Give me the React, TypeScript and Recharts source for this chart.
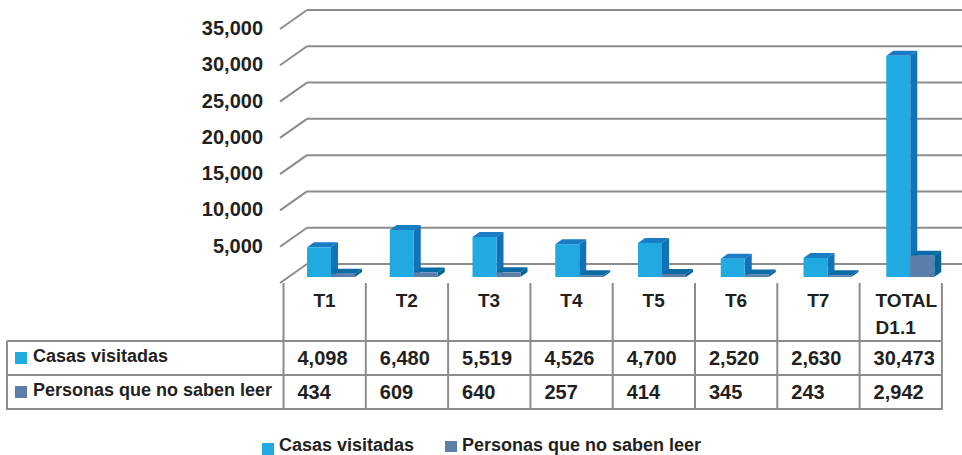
import React from "react";
import { BarChart, Bar, XAxis, YAxis, CartesianGrid } from "recharts";

const categories = ["T1", "T2", "T3", "T4", "T5", "T6", "T7", "TOTAL\nD1.1"];
const casasVisitadas = [4098, 6480, 5519, 4526, 4700, 2520, 2630, 30473];
const personasNoLeen = [434, 609, 640, 257, 414, 345, 243, 2942];
const seriesNames = ["Casas visitadas", "Personas que no saben leer"];
const yTicks = [0, 5000, 10000, 15000, 20000, 25000, 30000, 35000];

const data = categories.map((name, i) => ({
  name,
  casas: casasVisitadas[i],
  personas: personasNoLeen[i],
}));

const FONT = "'Liberation Sans', Arial, sans-serif";
const GRID = "#8c8c8c";
const TEXT = "#231f20";
const CASAS = { front: "#21a9e1", side: "#1172ba", top: "#1a7cc4" };
const PERSONAS = { front: "#5b7eab", side: "#04649a", top: "#0b6ba5" };
const seriesColors = [CASAS, PERSONAS];

const fmt = (v: number) => v.toLocaleString("en-US");

// 3D box for each bar: front face + right side + top
const makeBox = (c: { front: string; side: string; top: string }) => (props: any) => {
  const { x, y, width, height } = props;
  if (height == null || isNaN(height)) return <g />;
  const d = 7;
  const dy = 5;
  return (
    <g>
      <polygon
        points={`${x},${y} ${x + d},${y - dy} ${x + width + d},${y - dy} ${x + width},${y}`}
        fill={c.top}
      />
      <polygon
        points={`${x + width},${y} ${x + width + d},${y - dy} ${x + width + d},${y + height - dy} ${x + width},${y + height}`}
        fill={c.side}
      />
      <rect x={x} y={y} width={width} height={height} fill={c.front} />
    </g>
  );
};

// grid: short diagonal on the left wall, then the line along the back wall
const gridLine = (p: any) => {
  const y = p.y1;
  return (
    <g key={p.key}>
      <line x1={280} y1={y + 6} x2={307} y2={y - 13} stroke={GRID} strokeWidth={2} />
      <line x1={307} y1={y - 13} x2={962} y2={y - 13} stroke={GRID} strokeWidth={2} />
    </g>
  );
};

const YTick = (p: any) => {
  const v = p.payload.value;
  if (v === 0) return <g />;
  return (
    <text
      x={263}
      y={p.y + 5}
      textAnchor="end"
      dominantBaseline="central"
      fontFamily={FONT}
      fontWeight="bold"
      fontSize={20}
      fill={TEXT}
    >
      {fmt(v)}
    </text>
  );
};

const colX = (i: number) => 283.5 + i * 82.3;

const DataTable = () => {
  const rows = [casasVisitadas, personasNoLeen];
  const rowY = [358, 392];
  const txt = { fontFamily: FONT, fontWeight: "bold" as const, fill: TEXT };
  return (
    <svg
      width={962}
      height={455}
      style={{ position: "absolute", left: 0, top: 0, pointerEvents: "none" }}
    >
      {categories.concat([""]).map((_, i) => (
        <line key={`v${i}`} x1={colX(i)} y1={283} x2={colX(i)} y2={410} stroke={GRID} strokeWidth={2} />
      ))}
      <line x1={7} y1={341} x2={7} y2={410} stroke={GRID} strokeWidth={2} />
      {[341, 375, 409].map((y) => (
        <line key={`h${y}`} x1={7} y1={y} x2={colX(8)} y2={y} stroke={GRID} strokeWidth={2} />
      ))}
      {categories.map((c, i) => {
        const parts = c.split("\n");
        if (parts.length === 1) {
          return (
            <text key={`c${i}`} x={colX(i) + 41} y={300} textAnchor="middle" dominantBaseline="central" fontSize={19} {...txt}>
              {c}
            </text>
          );
        }
        return parts.map((s, k) => (
          <text key={`c${i}-${k}`} x={colX(i) + 16} y={300 + 27 * k} textAnchor="start" dominantBaseline="central" fontSize={19} {...txt}>
            {s}
          </text>
        ));
      })}
      {rows.map((vals, r) =>
        vals.map((v, i) => (
          <text key={`r${r}-${i}`} x={colX(i) + 14} y={rowY[r]} dominantBaseline="central" fontSize={20} {...txt}>
            {fmt(v)}
          </text>
        ))
      )}
      {seriesNames.map((n, r) => (
        <g key={`l${r}`}>
          <rect x={15} y={rowY[r] - 6} width={12} height={12} fill={seriesColors[r].front} />
          <text x={33} y={rowY[r] - 2} dominantBaseline="central" fontSize={18} {...txt}>
            {n}
          </text>
        </g>
      ))}
      {/* legend */}
      <rect x={262} y={443} width={12} height={12} fill={CASAS.front} />
      <text x={279} y={445} dominantBaseline="central" fontSize={18} {...txt}>
        {seriesNames[0]}
      </text>
      <rect x={445} y={441} width={12} height={11} fill={PERSONAS.front} />
      <text x={462} y={445} dominantBaseline="central" fontSize={18} {...txt}>
        {seriesNames[1]}
      </text>
    </svg>
  );
};

export default function App() {
  return (
    <div style={{ position: "fixed", left: 0, top: 0, width: 962, height: 455, background: "#fff" }}>
      <BarChart
        width={962}
        height={455}
        data={data}
        margin={{ top: 23, right: 10, bottom: 178, left: 230 }}
        barGap={0}
      >
        <CartesianGrid vertical={false} horizontal={gridLine} />
        <XAxis dataKey="name" hide />
        <YAxis
          width={60}
          domain={[0, 35000]}
          ticks={yTicks}
          axisLine={false}
          tickLine={false}
          tick={YTick}
          interval={0}
        />
        <Bar dataKey="casas" name={seriesNames[0]} barSize={24} shape={makeBox(CASAS)} isAnimationActive={false} />
        <Bar dataKey="personas" name={seriesNames[1]} barSize={24} shape={makeBox(PERSONAS)} isAnimationActive={false} />
      </BarChart>
      <DataTable />
    </div>
  );
}
